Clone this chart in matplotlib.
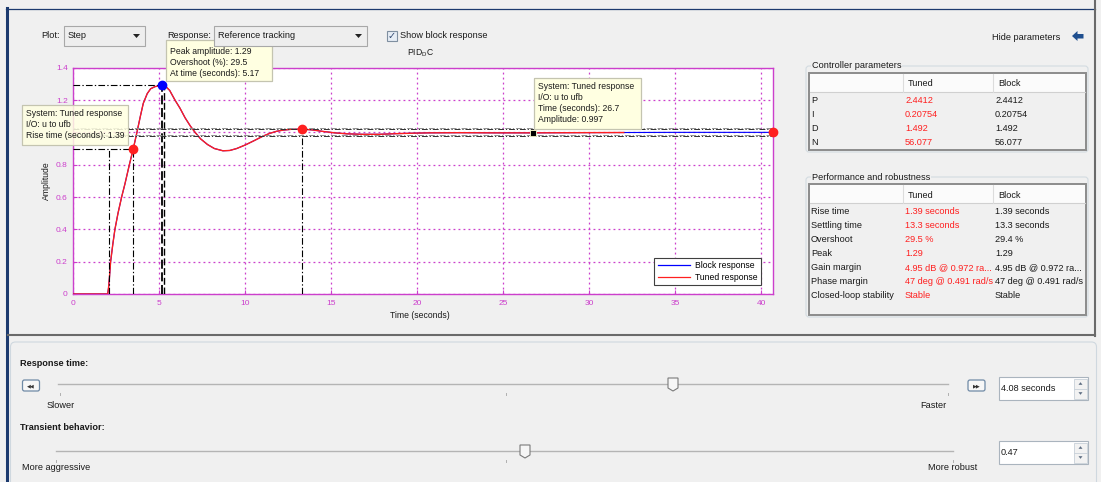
import matplotlib.pyplot as plt
from matplotlib.patches import Rectangle, Polygon, FancyBboxPatch
from matplotlib.lines import Line2D

plt.rcParams['font.family'] = ['Liberation Sans', 'DejaVu Sans']
plt.rcParams['mathtext.fontset'] = 'custom'
plt.rcParams['mathtext.rm'] = 'Liberation Sans'

# closed-loop step response (reference tracking)
time = [0, 2.0, 2.05, 2.1, 2.17, 2.3, 2.42, 2.6, 2.81, 3.0, 3.26, 3.49, 3.7, 3.9,
        4.07, 4.3, 4.5, 4.75, 5.0, 5.17, 5.35, 5.6, 5.91, 6.2, 6.5, 6.8, 7.08, 7.4,
        7.8, 8.2, 8.7, 9.1, 9.5, 10.0, 10.5, 11.0, 11.4, 11.8, 12.2, 12.7, 13.3,
        13.9, 14.5, 15.2, 15.9, 16.8, 17.8, 18.8, 19.8, 20.7, 22.5, 24.5, 26.7,
        29.0, 32.0, 35.0, 38.0, 40.7]
tuned_amp = [0, 0, 0.04, 0.1, 0.2, 0.31, 0.4, 0.5, 0.6, 0.68, 0.8, 0.9, 1.0, 1.1,
             1.18, 1.24, 1.27, 1.283, 1.288, 1.29, 1.286, 1.26, 1.2, 1.15, 1.09, 1.04,
             1.0, 0.96, 0.925, 0.9, 0.886, 0.888, 0.9, 0.922, 0.948, 0.975, 0.993,
             1.006, 1.014, 1.019, 1.02, 1.015, 1.006, 0.997, 0.991, 0.988, 0.988,
             0.992, 0.995, 0.997, 0.998, 0.997, 0.997, 0.998, 0.999, 1.0, 1.0, 1.0]
# block parameters equal the tuned ones, so both traces coincide
block_amp = tuned_amp

rise_start, rise_end, rise_level = 2.1, 3.49, 0.9
rise_time = 1.39
peak_t, peak_amp, overshoot = 5.17, 1.29, 29.5
settle_t, settle_band = 13.3, [0.98, 1.02]
tip_t, tip_amp = 26.7, 0.997
final_t, final_amp = 40.7, 1.0

ctrl_rows = ['P', 'I', 'D', 'N']
ctrl_tuned = ['2.4412', '0.20754', '1.492', '56.077']
ctrl_block = ['2.4412', '0.20754', '1.492', '56.077']

perf_rows = ['Rise time', 'Settling time', 'Overshoot', 'Peak', 'Gain margin',
             'Phase margin', 'Closed-loop stability']
perf_tuned = ['1.39 seconds', '13.3 seconds', '29.5 %', '1.29',
              '4.95 dB @ 0.972 ra...', '47 deg @ 0.491 rad/s', 'Stable']
perf_block = ['1.39 seconds', '13.3 seconds', '29.4 %', '1.29',
              '4.95 dB @ 0.972 ra...', '47 deg @ 0.491 rad/s', 'Stable']

response_time = '4.08 seconds'
transient = '0.47'

W, H = 1101, 482
BG = '#f0f0f0'
MAG = '#cc3fcc'
RED = '#ff2020'
BLUE = '#0000ff'
TXT = '#1a1a1a'
FS = 6.6

fig = plt.figure(figsize=(W / 100, H / 100), dpi=100, facecolor=BG)


def frac(x0, y0, x1, y1):
    return [x0 / W, 1 - y1 / H, (x1 - x0) / W, (y1 - y0) / H]


def pixel_axes(z):
    a = fig.add_axes([0, 0, 1, 1], zorder=z)
    a.set_xlim(0, W)
    a.set_ylim(H, 0)
    a.axis('off')
    a.patch.set_alpha(0)
    return a


def rect(a, x0, y0, x1, y1, fc='none', ec='none', lw=0.8, z=1, alpha=1):
    a.add_patch(Rectangle((x0, y0), x1 - x0, y1 - y0, facecolor=fc, edgecolor=ec,
                          linewidth=lw, zorder=z, alpha=alpha))


def label(a, x, y, s, size=FS, color=TXT, ha='left', z=5, **kw):
    a.text(x, y, s, fontsize=size, color=color, ha=ha, va='center', zorder=z, **kw)


# ---- window background and frames
back = pixel_axes(0)
back.plot([6.5, 6.5], [8, H], color='#1c3a6e', lw=2.2)
back.plot([6, 1095], [8.5, 8.5], color='#1c3a6e', lw=0.9)
back.plot([1095, 1095], [0, 336], color='#6a6a6a', lw=1.5)
back.plot([8, 1095], [335, 335], color='#6a6a6a', lw=1.5)
back.add_patch(FancyBboxPatch((10.5, 342), 1086, 150, boxstyle='round,pad=0,rounding_size=5',
                              facecolor=BG, edgecolor='#cfd8df', lw=0.8))

# ---- response plot
ax = fig.add_axes(frac(73.3, 67.7, 773.3, 294), zorder=2)
ax.set_facecolor('white')
ax.set_xlim(0, 40.7)
ax.set_ylim(0, 1.4)
ax.set_xticks(range(0, 41, 5))
yt = [0, 0.2, 0.4, 0.6, 0.8, 1.0, 1.2, 1.4]
ax.set_yticks(yt)
# the "1" label sits under the rise-time data tip
ax.set_yticklabels(['' if v == 1.0 else f'{v:g}' for v in yt])
ax.tick_params(colors=MAG, labelsize=6, direction='in', length=3, pad=4)
for s in ax.spines.values():
    s.set_color(MAG)
    s.set_linewidth(1.0)
ax.grid(True, color=MAG, ls=(0, (1.5, 2.5)), lw=0.9)
ax.set_axisbelow(True)

ax.plot(time, block_amp, color=BLUE, lw=0.8, zorder=3)
cut = [i for i, t in enumerate(time) if t <= 32]
ax.plot([time[i] for i in cut], [tuned_amp[i] for i in cut], color=RED, lw=1.0, zorder=4)

dd = (0, (6, 2, 1.2, 2))
ax.plot([0, peak_t], [peak_amp, peak_amp], color='k', lw=0.8, ls=dd, zorder=5)
ax.plot([peak_t, peak_t], [0, peak_amp], color='k', lw=1.3, ls=(0, (5, 2)), zorder=5)
ax.plot([peak_t + 0.08, peak_t + 0.08], [0, peak_amp], color='k', lw=1.0, ls=(0, (5, 2)), zorder=5)
ax.plot([0, rise_end], [rise_level, rise_level], color='k', lw=0.8, ls=dd, zorder=5)
for t in (rise_start, rise_end):
    ax.plot([t, t], [0, rise_level], color='k', lw=0.8, ls=dd, zorder=5)
ax.plot([settle_t, settle_t], [0, settle_band[1]], color='k', lw=0.8, ls=dd, zorder=5)
for lvl in settle_band:
    ax.plot([0, 40.7], [lvl, lvl], color='#303030', lw=0.7, ls=dd, zorder=5)
    ax.plot([0, 40.7], [lvl + 0.005, lvl + 0.005], color='#909090', lw=0.7,
            ls=(4, (6, 2, 1.2, 2)), zorder=5)

ax.plot(rise_end, rise_level, 'o', color=RED, ms=6, zorder=6)
ax.plot(peak_t, peak_amp, 'o', color=BLUE, ms=6, zorder=6)
ax.plot(settle_t, settle_band[1], 'o', color=RED, ms=6, zorder=6)
ax.plot(final_t, final_amp, 'o', color=RED, ms=6, zorder=6, clip_on=False)
ax.plot(tip_t, tip_amp, 's', color='k', mec='#ffffd0', mew=0.6, ms=5, zorder=7)

handles = [Line2D([], [], color=BLUE, lw=0.9), Line2D([], [], color=RED, lw=0.9)]
leg = ax.legend(handles, ['Block response', 'Tuned response'], loc='lower right',
                bbox_to_anchor=(765 / W, 1 - 289.5 / H), bbox_transform=fig.transFigure,
                fontsize=6.2, fancybox=False, edgecolor='#404040', framealpha=1,
                handlelength=3.8, handletextpad=0.5, labelspacing=0.3, borderpad=0.4)
leg.get_frame().set_linewidth(0.8)
leg.set_zorder(10)

# ---- overlay: controls, tooltips, tables
top = pixel_axes(3)

label(top, 420, 316, 'Time (seconds)', size=6.2, ha='center')
label(top, 46, 181, 'Amplitude', size=6.2, ha='center', rotation=90)
label(top, 420, 53, r'$\mathrm{PID_DC}$', size=6.2, ha='center')


def tooltip(x0, y0, x1, y1, lines, alpha=0.85, first=None):
    rect(top, x0, y0, x1, y1, fc='#ffffe1', ec='#c4c4b0', lw=0.8, z=2, alpha=alpha)
    rect(top, x0, y0, x1, y1, ec='#c4c4b0', lw=0.8, z=2)
    y_first = y0 + 8.5 if first is None else first
    for k, s in enumerate(lines):
        label(top, x0 + 4, y_first + 11 * k, s, size=6.2, z=3)


tooltip(165.7, 40, 271.7, 81, [f'Peak amplitude: {peak_amp}',
                               f'Overshoot (%): {overshoot}',
                               f'At time (seconds): {peak_t}'], alpha=1, first=51.5)
tooltip(21.7, 105, 128.3, 145, ['System: Tuned response', 'I/O: u to ufb',
                                f'Rise time (seconds): {rise_time}'])
tooltip(534, 78, 640.7, 129, ['System: Tuned response', 'I/O: u to ufb',
                              f'Time (seconds): {tip_t}', f'Amplitude: {tip_amp}'], alpha=1)


def dropdown(x0, x1, text):
    rect(top, x0, 26, x1, 46, fc='#eeeeee', ec='#a8a8a8', lw=0.8, z=6)
    label(top, x0 + 4, 36, text, z=7)
    xa = x1 - 8
    top.add_patch(Polygon([(xa - 3.5, 34), (xa + 3.5, 34), (xa, 38)],
                          closed=True, facecolor='#222222', edgecolor='none', zorder=7))


label(top, 41, 36, 'Plot:')
dropdown(64, 144.5, 'Step')
label(top, 167, 36, 'Response:')
dropdown(214, 366.5, 'Reference tracking')
rect(top, 387, 31, 397, 41, fc='#e6edf5', ec='#7f8fa0', lw=0.8, z=6)
label(top, 392, 36, '\u2713', size=7, color='#304870', ha='center', z=7,
      family='DejaVu Sans')
label(top, 400, 36, 'Show block response')

label(top, 992, 37, 'Hide parameters')
top.add_patch(Polygon([(1072, 36), (1077.5, 31), (1077.5, 34), (1083.5, 34),
                       (1083.5, 38.5), (1077.5, 38.5), (1077.5, 41)],
                      closed=True, facecolor='#1f4f8f', edgecolor='none', zorder=6))


def table(title, gy0, gy1, ty0, ty1, rows, tuned, block):
    top.add_patch(FancyBboxPatch((806, gy0), 282, gy1 - gy0,
                                 boxstyle='round,pad=0,rounding_size=3',
                                 facecolor='none', edgecolor='#d3dbe1', lw=0.8, zorder=4))
    label(top, 812, gy0, title, z=6,
          bbox=dict(facecolor=BG, edgecolor='none', pad=0.6))
    rect(top, 809, ty0, 1086, ty1, fc=BG, ec='#8c8c8c', lw=1.4, z=4)
    hy = ty0 + 19
    rect(top, 810, ty0 + 1, 1085, hy, fc='#fbfbfb', ec='none', z=4)
    top.plot([810, 1085], [hy, hy], color='#d0d0d0', lw=0.8, zorder=5)
    for xc in (903, 993):
        top.plot([xc, xc], [ty0 + 1, hy], color='#dcdcdc', lw=0.8, zorder=5)
    label(top, 908, ty0 + 11, 'Tuned')
    label(top, 998, ty0 + 11, 'Block')
    for k, (r, a, b) in enumerate(zip(rows, tuned, block)):
        y = hy + 8.5 + 14 * k
        label(top, 811, y, r)
        label(top, 905, y, a, color=RED)
        label(top, 995, y, b)


table('Controller parameters', 66, 152, 73, 150, ctrl_rows, ctrl_tuned, ctrl_block)
table('Performance and robustness', 177, 317, 184, 315, perf_rows, perf_tuned, perf_block)


# ---- tuning sliders
def button(x0, y0, text):
    top.add_patch(FancyBboxPatch((x0, y0), 17, 11, boxstyle='round,pad=0,rounding_size=2',
                                 facecolor='#f7f7f7', edgecolor='#6f8aa6', lw=0.9, zorder=5))
    label(top, x0 + 8.5, y0 + 5.7, text, size=3.6, color='#333333', ha='center',
          family='DejaVu Sans', z=6)


def slider(x0, x1, y, thumb_x, ticks):
    top.plot([x0, x1], [y, y], color='#b4b4b4', lw=1.0, zorder=4)
    for tx in ticks:
        top.plot([tx, tx], [y + 9, y + 11], color='#b0b0b0', lw=0.7, zorder=4)
    top.add_patch(Polygon([(thumb_x - 5, y - 6), (thumb_x + 5, y - 6), (thumb_x + 5, y + 4),
                           (thumb_x, y + 7), (thumb_x - 5, y + 4)], closed=True,
                          facecolor='#f6f6f6', edgecolor='#7a7a7a', lw=0.8, zorder=5))


def spinbox(y0, y1, text):
    rect(top, 999, y0, 1088, y1, fc='white', ec='#aab4be', lw=0.8, z=4)
    rect(top, 1074, y0 + 1.5, 1087, y1 - 1.5, fc='#f2f2f2', ec='#c8d0d8', lw=0.6, z=5)
    ym = (y0 + y1) / 2
    top.plot([1074, 1087], [ym, ym], color='#c8d0d8', lw=0.6, zorder=6)
    for yy, d in ((ym - 5, -1), (ym + 5, 1)):
        top.add_patch(Polygon([(1078.5, yy - 1.3 * d), (1082.5, yy - 1.3 * d), (1080.5, yy + 1.3 * d)],
                              closed=True, facecolor='#5a6a80', edgecolor='none', zorder=6))
    label(top, 1001, ym, text)


label(top, 20, 363, 'Response time:', weight='bold')
button(22.5, 380, '\u25c0\u25c0')
slider(58, 948, 384, 673, [60, 506, 948])
label(top, 47, 406, 'Slower')
label(top, 920, 406, 'Faster')
button(968, 380, '\u25b6\u25b6')
spinbox(377, 400, response_time)

label(top, 20, 427, 'Transient behavior:', weight='bold')
slider(56, 953, 451, 525, [56, 506, 953])
label(top, 22, 468, 'More aggressive')
label(top, 928, 468, 'More robust')
spinbox(441, 464, transient)

fig.savefig('out.png', dpi=100, facecolor=BG)
